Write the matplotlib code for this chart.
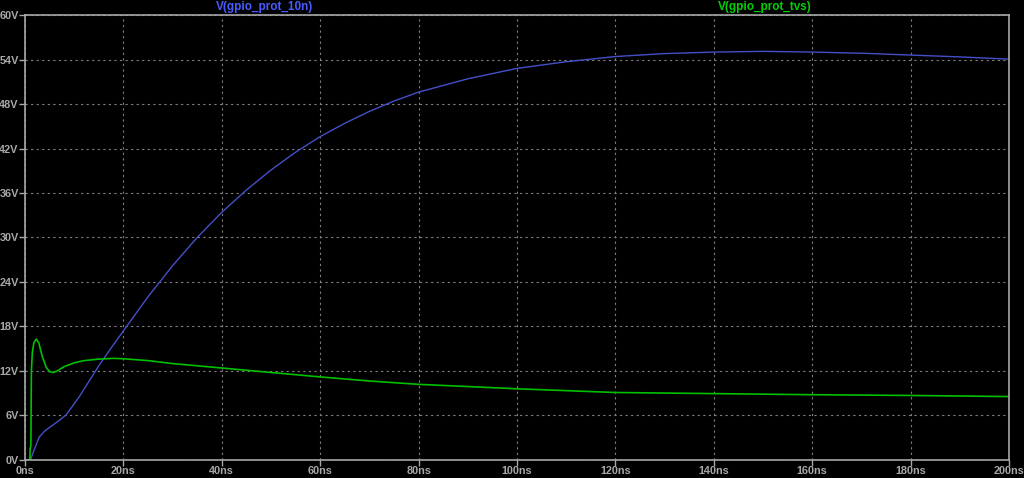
import numpy as np
import matplotlib.pyplot as plt

# times in ns, voltages in V
t_10n = [0, 1.1, 2.0, 2.9, 4.0, 5.0, 6.5, 8.4, 11, 13, 15, 17.5, 20, 25, 30, 35, 40, 45, 50, 55,
         60, 65, 70, 75, 80, 90, 100, 110, 120, 130, 140, 150, 160, 170, 180, 190, 200]
v_10n = [0, 0, 1.6, 3.1, 3.9, 4.4, 5.1, 6.1, 8.5, 10.6, 12.7, 15.1, 17.4, 22.0, 26.2, 30.0, 33.4,
         36.4, 39.1, 41.5, 43.6, 45.4, 47.0, 48.4, 49.6, 51.4, 52.8, 53.7, 54.4, 54.8, 55.0, 55.1,
         55.0, 54.85, 54.6, 54.35, 54.05]

t_tvs = [0, 1.0, 1.05, 1.2, 1.3, 1.5, 1.8, 2.3, 2.8, 3.5, 4.3, 5.0, 5.8, 6.5, 8, 10, 12, 15, 18, 20, 25,
         30, 40, 50, 60, 70, 80, 90, 100, 110, 120, 140, 160, 180, 200]
v_tvs = [0, 0, 1.5, 2.0, 12.0, 14.5, 15.8, 16.3, 15.8, 14.0, 12.5, 11.9, 11.8, 12.0, 12.6, 13.1, 13.4,
         13.6, 13.7, 13.65, 13.4, 13.0, 12.4, 11.8, 11.2, 10.65, 10.2, 9.9, 9.6, 9.35, 9.1, 8.95, 8.8,
         8.7, 8.55]

x_ticks = np.arange(0, 201, 20)
y_ticks = np.arange(0, 61, 6)

fg = '#a8a8a8'
fig = plt.figure(figsize=(10.24, 4.78), dpi=100, facecolor='black')
ax = fig.add_axes([0.0244, 0.0377, 0.9609, 0.9309], facecolor='black')

ax.plot(t_10n, v_10n, color='#4550c8', lw=1.0)
ax.plot(t_tvs, v_tvs, color='#00c000', lw=1.2)

ax.set_xlim(0, 200)
ax.set_ylim(0, 60)
ax.set_xticks(x_ticks)
ax.set_yticks(y_ticks)
ax.set_xticklabels([f'{v}ns' for v in x_ticks])
ax.set_yticklabels([f'{v}V' for v in y_ticks])
ax.tick_params(colors=fg, labelsize=7.8, length=4, width=1, pad=0.5)
for lab in ax.get_xticklabels() + ax.get_yticklabels():
    lab.set_fontweight('bold')
    lab.set_fontfamily('Liberation Sans')
for s in ax.spines.values():
    s.set_color(fg)
    s.set_linewidth(1.2)
ax.grid(True, color='#808080', linestyle=(0, (2, 3)), lw=0.8)

fig.text(265 / 1024, 1 - 7 / 478, 'V(gpio_prot_10n)', color='#4a5cff', ha='center', va='center',
         fontsize=8.5, fontweight='bold', family='Liberation Sans')
fig.text(765 / 1024, 1 - 7 / 478, 'V(gpio_prot_tvs)', color='#00d000', ha='center', va='center',
         fontsize=8.5, fontweight='bold', family='Liberation Sans')

fig.savefig('out.png', dpi=100, facecolor='black')
